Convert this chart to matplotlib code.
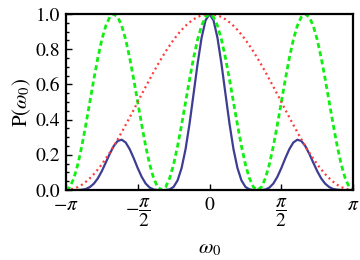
import numpy as np
import matplotlib
matplotlib.use("Agg")
import matplotlib.pyplot as plt

plt.rcParams['font.family'] = ['STIXGeneral', 'DejaVu Serif']
plt.rcParams['mathtext.fontset'] = 'stix'

# sample grid: omega from -pi to pi, step pi/36
omega = np.linspace(-np.pi, np.pi, 73)

# red dotted curve
p_red = [0.000, 0.002, 0.008, 0.017, 0.030, 0.047, 0.067, 0.090, 0.117, 0.146, 0.179, 0.213,
         0.250, 0.289, 0.329, 0.371, 0.413, 0.456, 0.500, 0.544, 0.587, 0.629, 0.671, 0.711,
         0.750, 0.787, 0.821, 0.854, 0.883, 0.910, 0.933, 0.953, 0.970, 0.983, 0.992, 0.998,
         1.000,
         0.998, 0.992, 0.983, 0.970, 0.953, 0.933, 0.910, 0.883, 0.854, 0.821, 0.787, 0.750,
         0.711, 0.671, 0.629, 0.587, 0.544, 0.500, 0.456, 0.413, 0.371, 0.329, 0.289, 0.250,
         0.213, 0.179, 0.146, 0.117, 0.090, 0.067, 0.047, 0.030, 0.017, 0.008, 0.002, 0.000]

# green dashed curve
p_green = [0.000, 0.017, 0.067, 0.146, 0.250, 0.371, 0.500, 0.629, 0.750, 0.854, 0.933, 0.983,
           1.000, 0.983, 0.933, 0.854, 0.750, 0.629, 0.500, 0.371, 0.250, 0.146, 0.067, 0.017,
           0.000, 0.017, 0.067, 0.146, 0.250, 0.371, 0.500, 0.629, 0.750, 0.854, 0.933, 0.983,
           1.000,
           0.983, 0.933, 0.854, 0.750, 0.629, 0.500, 0.371, 0.250, 0.146, 0.067, 0.017, 0.000,
           0.017, 0.067, 0.146, 0.250, 0.371, 0.500, 0.629, 0.750, 0.854, 0.933, 0.983, 1.000,
           0.983, 0.933, 0.854, 0.750, 0.629, 0.500, 0.371, 0.250, 0.146, 0.067, 0.017, 0.000]

# blue solid curve
p_blue = [0.000, 0.000, 0.000, 0.000, 0.002, 0.006, 0.017, 0.036, 0.066, 0.107, 0.156, 0.206,
          0.250, 0.279, 0.286, 0.270, 0.232, 0.181, 0.125, 0.075, 0.037, 0.014, 0.003, 0.000,
          0.000, 0.000, 0.004, 0.018, 0.055, 0.125, 0.233, 0.378, 0.546, 0.716, 0.864, 0.964,
          1.000,
          0.964, 0.864, 0.716, 0.546, 0.378, 0.233, 0.125, 0.055, 0.018, 0.004, 0.000, 0.000,
          0.000, 0.003, 0.014, 0.037, 0.075, 0.125, 0.181, 0.232, 0.270, 0.286, 0.279, 0.250,
          0.206, 0.156, 0.107, 0.066, 0.036, 0.017, 0.006, 0.002, 0.000, 0.000, 0.000, 0.000]

xticks = [-np.pi, -np.pi/2, 0, np.pi/2, np.pi]
xticklabels = [r'$-\pi$', r'$-\dfrac{\pi}{2}$', r'$0$', r'$\dfrac{\pi}{2}$', r'$\pi$']

fig = plt.figure(figsize=(3.6, 2.6), dpi=100)
ax = fig.add_axes([0.183, 0.269, 0.798, 0.677])

ax.plot(omega, p_blue, color='#3d3d94', lw=1.6, solid_capstyle='round')
ax.plot(omega, p_green, color='#11ee11', lw=2.0, dashes=(1.8, 1.2))
ax.plot(omega, p_red, color='#ff3b3b', lw=1.6, dashes=(0.9, 1.5))

ax.set_xlim(-np.pi, np.pi)
ax.set_ylim(0, 1.0)
ax.set_xticks(xticks)
ax.set_xticklabels(xticklabels, fontsize=14)
ax.set_yticks([0, 0.2, 0.4, 0.6, 0.8, 1.0])
ax.set_yticklabels(['0.0', '0.2', '0.4', '0.6', '0.8', '1.0'])
ax.set_yticks(np.arange(0, 1.0001, 0.05), minor=True)
ax.tick_params(direction='in', labelsize=14, width=1.0, length=4, pad=4)
ax.tick_params(which='minor', direction='in', width=1.0, length=2.5)
ax.tick_params(axis='x', pad=5)
for s in ax.spines.values():
    s.set_linewidth(1.6)

ax.set_ylabel(r'$\mathrm{P}(\omega_0)$', fontsize=15, labelpad=2)
ax.set_xlabel(r'$\omega_0$', fontsize=15, labelpad=7)

fig.savefig('out.png', dpi=100)
